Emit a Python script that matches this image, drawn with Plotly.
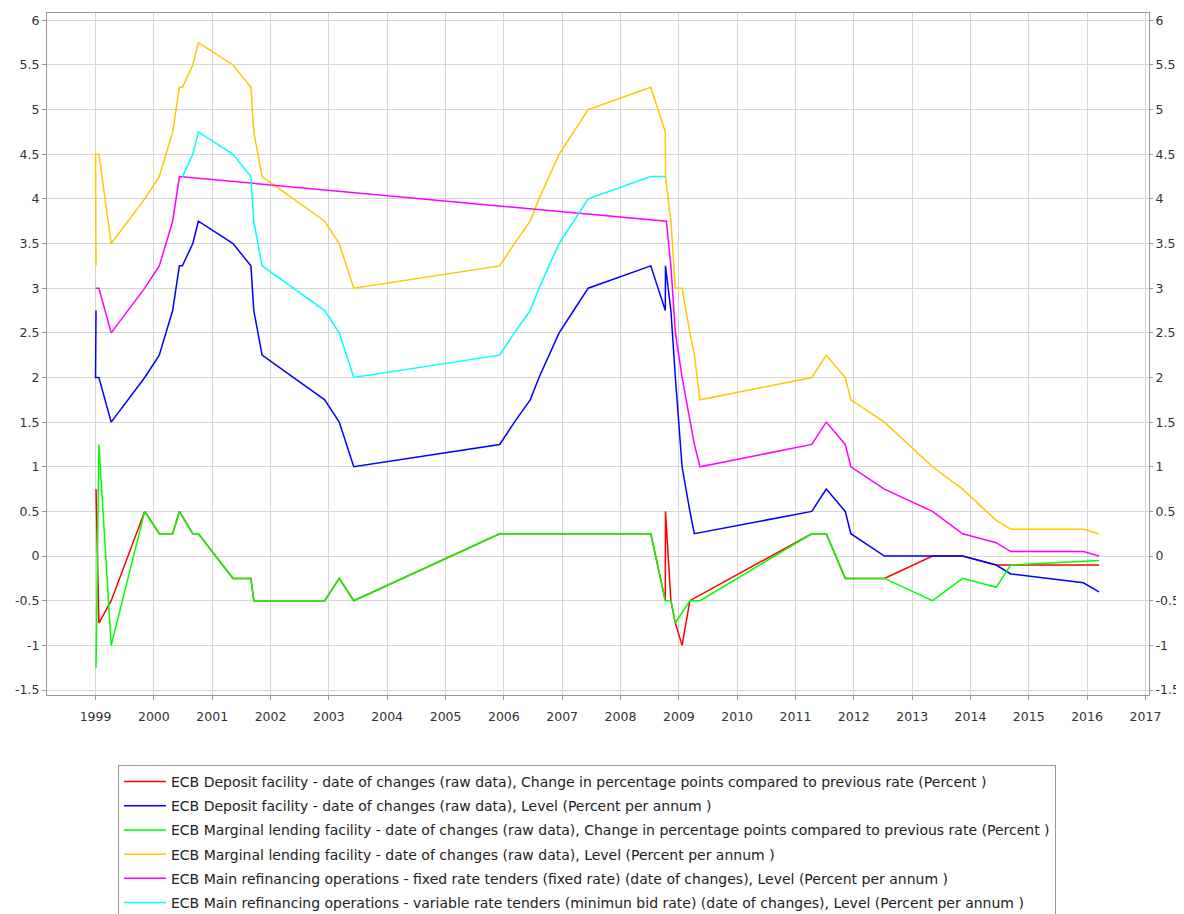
import plotly.graph_objects as go

# ECB key rates, each series as (date of change, value)
df_chg_dates = ["1999-01-04", "1999-01-22", "1999-04-09", "1999-11-05", "2000-02-04", "2000-03-17",
                "2000-04-28", "2000-06-09", "2000-09-01", "2000-10-06", "2001-05-11", "2001-08-31",
                "2001-09-18", "2001-11-09", "2002-12-06", "2003-03-07", "2003-06-06", "2005-12-06",
                "2006-03-08", "2006-06-15", "2006-08-09", "2006-10-11", "2006-12-13", "2007-03-14",
                "2007-06-13", "2008-07-09", "2008-10-08", "2008-10-09", "2008-11-12", "2008-12-10",
                "2009-01-21", "2009-03-11", "2011-04-13", "2011-07-13", "2011-11-09", "2011-12-14",
                "2012-07-11", "2013-05-08", "2013-11-13", "2014-06-11", "2014-09-10", "2015-12-09",
                "2016-03-16"]
df_chg = [0.75, -0.75, -0.5, 0.5, 0.25, 0.25,
          0.25, 0.5, 0.25, 0.25, -0.25, -0.25,
          -0.5, -0.5, -0.5, -0.25, -0.5, 0.25,
          0.25, 0.25, 0.25, 0.25, 0.25, 0.25,
          0.25, 0.25, -0.5, 0.5, -0.5, -0.75,
          -1.0, -0.5, 0.25, 0.25, -0.25, -0.25,
          -0.25, 0.0, 0.0, -0.1, -0.1, -0.1,
          -0.1]

df_lvl_dates = ["1999-01-04", "1999-01-01", "1999-01-22", "1999-04-09", "1999-11-05", "2000-02-04",
                "2000-03-17", "2000-04-28", "2000-06-09", "2000-06-28", "2000-09-01", "2000-10-06",
                "2001-05-11", "2001-08-31", "2001-09-18", "2001-11-09", "2002-12-06", "2003-03-07",
                "2003-06-06", "2005-12-06", "2006-03-08", "2006-06-15", "2006-08-09", "2006-10-11",
                "2006-12-13", "2007-03-14", "2007-06-13", "2008-07-09", "2008-10-08", "2008-10-09",
                "2008-11-12", "2008-12-10", "2009-01-21", "2009-03-11", "2009-04-08", "2011-04-13",
                "2011-07-13", "2011-11-09", "2011-12-14", "2012-07-11", "2013-05-08", "2013-11-13",
                "2014-06-11", "2014-09-10", "2015-12-09", "2016-03-16"]
df_lvl = [2.75, 2.0, 2.0, 1.5, 2.0, 2.25,
          2.5, 2.75, 3.25, 3.25, 3.5, 3.75,
          3.5, 3.25, 2.75, 2.25, 1.75, 1.5,
          1.0, 1.25, 1.5, 1.75, 2.0, 2.25,
          2.5, 2.75, 3.0, 3.25, 2.75, 3.25,
          2.75, 2.0, 1.0, 0.5, 0.25, 0.5,
          0.75, 0.5, 0.25, 0.0, 0.0, 0.0,
          -0.1, -0.2, -0.3, -0.4]

mlf_chg_dates = ["1999-01-04", "1999-01-22", "1999-04-09", "1999-11-05", "2000-02-04", "2000-03-17",
                 "2000-04-28", "2000-06-09", "2000-09-01", "2000-10-06", "2001-05-11", "2001-08-31",
                 "2001-09-18", "2001-11-09", "2002-12-06", "2003-03-07", "2003-06-06", "2005-12-06",
                 "2006-03-08", "2006-06-15", "2006-08-09", "2006-10-11", "2006-12-13", "2007-03-14",
                 "2007-06-13", "2008-07-09", "2008-10-08", "2008-10-09", "2008-11-12", "2008-12-10",
                 "2009-03-11", "2009-05-13", "2011-04-13", "2011-07-13", "2011-11-09", "2011-12-14",
                 "2012-07-11", "2013-05-08", "2013-11-13", "2014-06-11", "2014-09-10", "2016-03-16"]
mlf_chg = [-1.25, 1.25, -1.0, 0.5, 0.25, 0.25,
           0.25, 0.5, 0.25, 0.25, -0.25, -0.25,
           -0.5, -0.5, -0.5, -0.25, -0.5, 0.25,
           0.25, 0.25, 0.25, 0.25, 0.25, 0.25,
           0.25, 0.25, -0.5, -0.5, -0.5, -0.75,
           -0.5, -0.5, 0.25, 0.25, -0.25, -0.25,
           -0.25, -0.5, -0.25, -0.35, -0.1, -0.05]

mlf_lvl_dates = ["1999-01-04", "1999-01-01", "1999-01-22", "1999-04-09", "1999-11-05", "2000-02-04",
                 "2000-03-17", "2000-04-28", "2000-06-09", "2000-06-28", "2000-09-01", "2000-10-06",
                 "2001-05-11", "2001-08-31", "2001-09-18", "2001-11-09", "2002-12-06", "2003-03-07",
                 "2003-06-06", "2005-12-06", "2006-03-08", "2006-06-15", "2006-08-09", "2006-10-11",
                 "2006-12-13", "2007-03-14", "2007-06-13", "2008-07-09", "2008-10-08", "2008-10-09",
                 "2008-11-12", "2008-12-10", "2009-01-21", "2009-03-11", "2009-04-08", "2009-05-13",
                 "2011-04-13", "2011-07-13", "2011-11-09", "2011-12-14", "2012-07-11", "2013-05-08",
                 "2013-11-13", "2014-06-11", "2014-09-10", "2015-12-09", "2016-03-16"]
mlf_lvl = [3.25, 4.5, 4.5, 3.5, 4.0, 4.25,
           4.5, 4.75, 5.25, 5.25, 5.5, 5.75,
           5.5, 5.25, 4.75, 4.25, 3.75, 3.5,
           3.0, 3.25, 3.5, 3.75, 4.0, 4.25,
           4.5, 4.75, 5.0, 5.25, 4.75, 4.25,
           3.75, 3.0, 3.0, 2.5, 2.25, 1.75,
           2.0, 2.25, 2.0, 1.75, 1.5, 1.0,
           0.75, 0.4, 0.3, 0.3, 0.25]

mro_fixed_dates = ["1999-01-01", "1999-01-22", "1999-04-09", "1999-11-05", "2000-02-04", "2000-03-17",
                   "2000-04-28", "2000-06-09", "2008-10-15", "2008-11-12", "2008-12-10", "2009-01-21",
                   "2009-03-11", "2009-04-08", "2009-05-13", "2011-04-13", "2011-07-13", "2011-11-09",
                   "2011-12-14", "2012-07-11", "2013-05-08", "2013-11-13", "2014-06-11", "2014-09-10",
                   "2015-12-09", "2016-03-16"]
mro_fixed = [3.0, 3.0, 2.5, 3.0, 3.25, 3.5,
             3.75, 4.25, 3.75, 3.25, 2.5, 2.0,
             1.5, 1.25, 1.0, 1.25, 1.5, 1.25,
             1.0, 0.75, 0.5, 0.25, 0.15, 0.05,
             0.05, 0.0]

mro_var_dates = ["2000-06-28", "2000-09-01", "2000-10-06", "2001-05-11", "2001-08-31", "2001-09-18",
                 "2001-11-09", "2002-12-06", "2003-03-07", "2003-06-06", "2005-12-06", "2006-03-08",
                 "2006-06-15", "2006-08-09", "2006-10-11", "2006-12-13", "2007-03-14", "2007-06-13",
                 "2008-07-09", "2008-10-08"]
mro_var = [4.25, 4.5, 4.75, 4.5, 4.25, 3.75,
           3.25, 2.75, 2.5, 2.0, 2.25, 2.5,
           2.75, 3.0, 3.25, 3.5, 3.75, 4.0,
           4.25, 4.25]

series_names = [
    "ECB Deposit facility - date of changes (raw data), Change in percentage points compared to previous rate (Percent )",
    "ECB Deposit facility - date of changes (raw data), Level (Percent per annum )",
    "ECB Marginal lending facility - date of changes (raw data), Change in percentage points compared to previous rate (Percent )",
    "ECB Marginal lending facility - date of changes (raw data), Level (Percent per annum )",
    "ECB Main refinancing operations - fixed rate tenders (fixed rate) (date of changes), Level (Percent per annum )",
    "ECB Main refinancing operations - variable rate tenders (minimun bid rate) (date of changes), Level (Percent per annum )",
]
series_colors = ["#ff0000", "#0000ff", "#00ff00", "#ffc800", "#ff00ff", "#00ffff"]

y_ticks = [-1.5, -1, -0.5, 0, 0.5, 1, 1.5, 2, 2.5, 3, 3.5, 4, 4.5, 5, 5.5, 6]
y_tick_labels = ["-1.5", "-1", "-0.5", "0", "0.5", "1", "1.5", "2", "2.5", "3", "3.5", "4",
                 "4.5", "5", "5.5", "6"]

data = [
    (df_chg_dates, df_chg),
    (df_lvl_dates, df_lvl),
    (mlf_chg_dates, mlf_chg),
    (mlf_lvl_dates, mlf_lvl),
    (mro_fixed_dates, mro_fixed),
    (mro_var_dates, mro_var),
]

fig = go.Figure()
for i, (xs, ys) in enumerate(data):
    fig.add_trace(go.Scatter(
        x=xs, y=ys, mode="lines", name=series_names[i],
        legendgroup="g%d" % i,
        # last series sits on the mirrored right axis so that axis gets drawn
        yaxis="y2" if i == len(data) - 1 else "y",
        line=dict(color=series_colors[i], width=1.5),
    ))

font = "DejaVu Sans, Liberation Sans, sans-serif"
y_range = [-1.556, 6.082]

# the page body has an 8px margin, so the figure is 8px smaller than the window
fig.update_layout(
    width=1176, height=906,
    paper_bgcolor="white", plot_bgcolor="white",
    font=dict(family=font, size=12.5, color="#333333"),
    margin=dict(l=39, r=35, t=5, b=219, autoexpand=False),
    xaxis=dict(
        type="date", range=["1998-03-03", "2017-01-23"],
        tick0="1999-01-01", dtick="M12", tickformat="%Y",
        showgrid=True, gridcolor="#d6d6d6", gridwidth=1,
        showline=True, linecolor="#999999", linewidth=1, mirror=True,
        ticks="outside", ticklen=4, tickcolor="#999999",
        ticklabelstandoff=6,
        zeroline=False,
    ),
    yaxis=dict(
        range=y_range, tickmode="array", tickvals=y_ticks, ticktext=y_tick_labels,
        showgrid=True, gridcolor="#d6d6d6", gridwidth=1,
        showline=True, linecolor="#999999", linewidth=1, mirror=True,
        ticks="outside", ticklen=4, tickcolor="#999999",
        zeroline=False,
    ),
    yaxis2=dict(
        overlaying="y", side="right",
        range=y_range, tickmode="array", tickvals=y_ticks, ticktext=y_tick_labels,
        showgrid=False, zeroline=False,
        ticks="outside", ticklen=3, tickcolor="#999999",
    ),
    showlegend=True,
    legend=dict(
        x=0.0644, y=-0.1026, xanchor="left", yanchor="top",
        bgcolor="white", bordercolor="#999999", borderwidth=1,
        font=dict(family=font, size=14, color="#222222"),
        traceorder="grouped", tracegroupgap=3, itemwidth=42,
    ),
)

fig.write_html("out.html")
